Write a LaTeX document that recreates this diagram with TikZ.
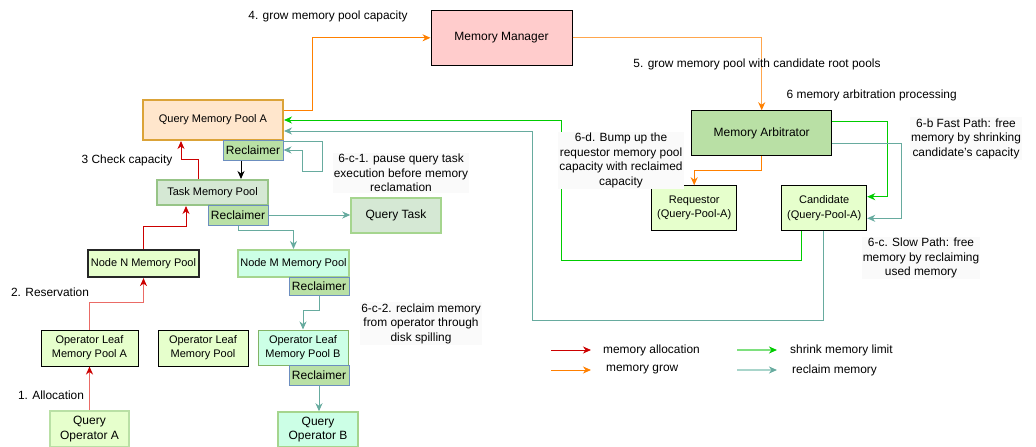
\documentclass[tikz,border=0pt]{standalone}
\usepackage{fontspec}
\setmainfont{Liberation Sans}
\usetikzlibrary{arrows.meta,positioning}
\definecolor{cRed}{HTML}{CC0000}
\definecolor{cRedL}{HTML}{EA6B66}
\definecolor{cOr}{HTML}{FF8000}
\definecolor{cOrL}{HTML}{FFA64D}
\definecolor{cGr}{HTML}{00CC00}
\definecolor{cGrL}{HTML}{7EE07E}
\definecolor{cTe}{HTML}{67AB9F}
\definecolor{cTeL}{HTML}{A9D5CB}
\definecolor{fPink}{HTML}{FFCCCC}
\definecolor{fPeach}{HTML}{FFE6CC}
\definecolor{dGold}{HTML}{DBA338}
\definecolor{fRecl}{HTML}{B9E0A5}
\definecolor{dBlue}{HTML}{6C8EBF}
\definecolor{fSage}{HTML}{D5E8D4}
\definecolor{dSage}{HTML}{97C487}
\definecolor{fLime}{HTML}{E6FFCC}
\definecolor{fMint}{HTML}{CCFFE6}
\definecolor{dMint}{HTML}{A5D58E}
\definecolor{dGreen}{HTML}{82B366}
\definecolor{fLbl}{HTML}{FAFAFA}
\tikzset{
  box/.style={draw=black, line width=1pt, inner sep=0pt, align=center, font=\fontsize{11}{14}\selectfont},
  recl/.style={box, fill=fRecl, draw=dBlue, minimum width=60pt, minimum height=20pt, font=\fontsize{12}{14}\selectfont},
  lbl/.style={inner sep=1pt, align=center, font=\fontsize{11.9}{14.5}\selectfont},
  lblbg/.style={lbl, fill=fLbl},
  tip/.style={-{Stealth[length=8pt,width=7pt,inset=2.5pt,#1]}},
  aRed/.style={draw=cRed, line width=1pt, tip={color=cRed}},
  aRedL/.style={draw=cRedL, line width=1.2pt, tip={color=cRed}},
  aOr/.style={draw=cOr, line width=1pt, tip={color=cOr}},
  aGr/.style={draw=cGr, line width=1pt, tip={color=cGr}},
  aTe/.style={draw=cTe, line width=1pt, tip={color=cTe}},
  aBk/.style={draw=black, line width=1pt, tip={color=black}},
}
\begin{document}
\begin{tikzpicture}[x=1pt,y=-1pt]
\useasboundingbox (0,0) rectangle (1036,447);
% ---- boxes ----
\node[box, fill=fPink, minimum width=141pt, minimum height=55pt, font=\fontsize{12}{14}\selectfont] (mm) at (501.5,37.8) {Memory Manager};
\node[box, fill=fPeach, draw=dGold, line width=2pt, minimum width=140pt, minimum height=40pt] (qmpa) at (213,120) {Query Memory Pool A};
\node[recl] (rq) at (253,150) {Reclaimer};
\node[box, fill=fSage, draw=dSage, line width=2pt, minimum width=111pt, minimum height=25pt] (tmp) at (212.5,192.5) {Task Memory Pool};
\node[recl] (rt) at (238,215) {Reclaimer};
\node[box, fill=fSage, draw=dMint, line width=1.5pt, minimum width=90pt, minimum height=35pt, font=\fontsize{12}{14}\selectfont] (qt) at (396,215.5) {Query Task};
\node[box, fill=fLime, draw=black!85, line width=2.2pt, minimum width=111pt, minimum height=27pt] (nn) at (143.5,263.5) {Node N Memory Pool};
\node[box, fill=fMint, draw=dMint, line width=2pt, minimum width=111pt, minimum height=27pt] (nm) at (293.5,263.5) {Node M Memory Pool};
\node[recl, minimum height=18pt] (rnm) at (319,286) {Reclaimer};
\node[box, fill=fLime, minimum width=97pt, minimum height=36pt] (ola) at (89.5,348) {Operator Leaf\\Memory Pool A};
\node[box, fill=fLime, minimum width=90pt, minimum height=36pt] (olp) at (203,348) {Operator Leaf\\Memory Pool};
\node[box, fill=fMint, draw=dGreen, minimum width=90pt, minimum height=35pt] (olb) at (303,347.5) {Operator Leaf\\Memory Pool B};
\node[recl] (rob) at (319,375) {Reclaimer};
\node[box, fill=fLime, draw=fRecl, line width=2pt, minimum width=79pt, minimum height=36pt, font=\fontsize{12}{14.5}\selectfont] (qoa) at (89.5,429) {Query\\Operator A};
\node[box, fill=fMint, draw=dMint, line width=1.5pt, minimum width=80pt, minimum height=35pt, font=\fontsize{12}{14.5}\selectfont] (qob) at (318,429.5) {Query\\Operator B};
\node[box, fill=fRecl, minimum width=140pt, minimum height=44.5pt, font=\fontsize{12}{14}\selectfont] (ma) at (761.7,133) {Memory Arbitrator};
\node[box, fill=fLime, minimum width=85pt, minimum height=44.5pt, font=\fontsize{11}{14.5}\selectfont] (req) at (694.2,208) {Requestor\\(Query-Pool-A)};
\node[box, fill=fLime, minimum width=85pt, minimum height=44.5pt, font=\fontsize{11}{14.5}\selectfont] (cand) at (824.2,208) {Candidate\\(Query-Pool-A)};
% ---- connectors ----
\draw[aRedL] (qoa.north) -- (ola.south);
\draw[aRedL] (ola.north) -- ++(0,-27) -| (nn.south);
\draw[aRed] (nn.north) -- ++(0,-22) -| ([xshift=-26.5pt]tmp.south);
\draw[aRed] ([xshift=-14.5pt]tmp.north) -- ++(0,-20) -| ([xshift=-32pt]qmpa.south);
\draw[aBk] ([xshift=-12pt]rq.south) -- ([xshift=-12pt]rq.south |- tmp.north);
\draw[aTe] (qmpa.south east) -- ++(38,0) -- ++(0,30) -- ++(-20,0) |- (rq.east);
\draw[aTe] (rt.east) -- (rt.east -| qt.west);
\draw[aTe] (rt.south) -- ++(0,5) -| (nm.north);
\draw[aTe] (rnm.south) -- ++(0,15) -| (olb.north);
\draw[aTe] (rob.south) -- (rob.south |- qob.north);
\draw[aOr] ([yshift=10pt]qmpa.east) -- ++(28,0) |- (mm.west);
\draw[aOr, draw=cOrL] (mm.east) -| (ma.north);
\draw[aOr] (ma.south) -- ++(0,15) -| (req.north);
\draw[aGr] ([yshift=11.3pt]ma.east) -- ++(55,0) |- ([yshift=11.3pt]cand.east);
\draw[aTe] ([yshift=-10.3pt]ma.east) -- ++(69.7,0) |- ([yshift=-10.3pt]cand.east);
\draw[aGr] ([xshift=-22.5pt]cand.south) -- ++(0,30) -- ++(-240.4,0) |- (qmpa.east);
\draw[aTe] ([xshift=-0.5pt]cand.south) -- ++(0,90) -- ++(-291.1,0) |- ([yshift=-11pt]qmpa.east);
% ---- labels ----
\node[lbl] (l4) at (328,16) {4. grow memory pool capacity};
\node[lbl] (l5) at (757,64) {5. grow memory pool with candidate root pools};
\node[lbl] (l6) at (871.7,95) {6 memory arbitration processing};
\node[lblbg] (l6b) at (966,138.5) {6-b Fast Path: free\\memory by shrinking\\candidate's capacity};
\node[lblbg] (l6d) at (621,160.3) {6-d. Bump up the\\requestor memory pool\\capacity with reclaimed\\capacity};
\node[lblbg] (l6c1) at (401,173) {6-c-1. pause query task\\execution before memory\\reclamation};
\node[lblbg] (l6c) at (921,258.2) {6-c. Slow Path: free\\memory by reclaiming\\used memory};
\node[lblbg] (l6c2) at (421,323.5) {6-c-2. reclaim memory\\from operator through\\disk spilling};
\node[lbl] (l3) at (127,160) {3 Check capacity};
\node[lbl] (l2) at (50,292) {2. Reservation};
\node[lbl] (l1) at (51,395) {1. Allocation};
% ---- legend ----
\coordinate (g1a) at (551,350); \coordinate (g1b) at (591,350);
\coordinate (g2a) at (551,370); \coordinate (g2b) at (591,370);
\coordinate (g3a) at (737,350); \coordinate (g3b) at (777,350);
\coordinate (g4a) at (737,370); \coordinate (g4b) at (777,370);
\draw[aRed] (g1a) -- (g1b);
\draw[aOr] (g2a) -- (g2b);
\draw[draw=cGrL, line width=1.5pt, tip={color=cGr}] (g3a) -- (g3b);
\draw[draw=cTeL, line width=1.5pt, tip={color=cTe}] (g4a) -- (g4b);
\node[lbl, anchor=west] (t1) at (602,350) {memory allocation};
\node[lbl, anchor=west] (t2) at (605,370) {memory grow};
\node[lbl, anchor=west] (t3) at (789,350) {shrink memory limit};
\node[lbl, anchor=west] (t4) at (791,370) {reclaim memory};
\end{tikzpicture}
\end{document}
